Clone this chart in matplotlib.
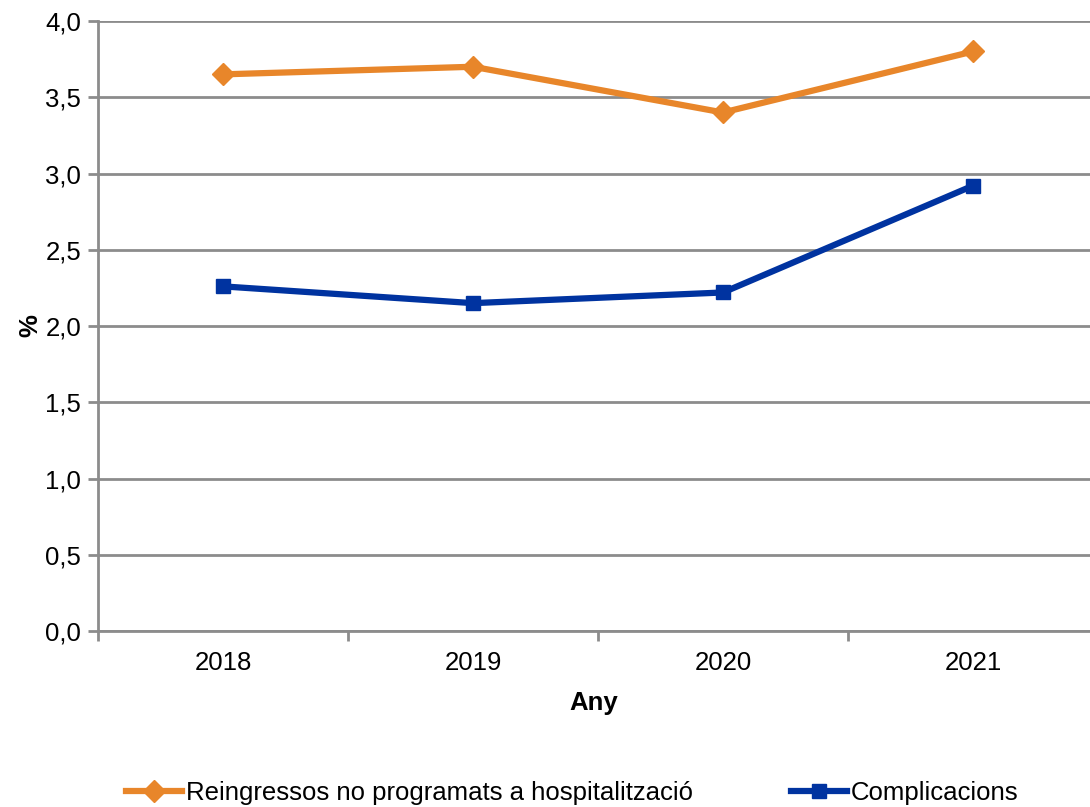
import matplotlib
matplotlib.use('Agg')
import matplotlib.pyplot as plt
from matplotlib.ticker import FixedLocator, FuncFormatter

years = ['2018', '2019', '2020', '2021']
reingressos = [3.65, 3.70, 3.40, 3.80]
complicacions = [2.26, 2.15, 2.22, 2.92]

plt.rcParams['font.family'] = ['Liberation Sans', 'DejaVu Sans']
FS = 18.5

fig = plt.figure(figsize=(10.9, 8.07), dpi=100)
ax = fig.add_axes([0.0899, 0.218, 0.9101, 0.756])

x = range(len(years))
ax.plot(x, reingressos, color='#E8862A', linewidth=4.5, marker='D', markersize=11,
        label='Reingressos no programats a hospitalització', zorder=3)
ax.plot(x, complicacions, color='#0033A0', linewidth=4.5, marker='s', markersize=10,
        label='Complicacions', zorder=3)

ax.set_ylim(0, 4.0)
ax.set_xlim(-0.5, 3.468)
ax.set_yticks([i * 0.5 for i in range(9)])
ax.yaxis.set_major_formatter(FuncFormatter(lambda v, p: f'{v:.1f}'.replace('.', ',')))
ax.set_xticks(list(x))
ax.set_xticklabels(years)
ax.xaxis.set_minor_locator(FixedLocator([-0.5, 0.5, 1.5, 2.5, 3.5]))
ax.tick_params(axis='x', which='major', length=0, pad=14, labelsize=FS)
ax.tick_params(axis='x', which='minor', length=7, width=2, color='#8c8c8c', direction='out')
ax.tick_params(axis='y', length=7, width=2, color='#8c8c8c', pad=5, labelsize=FS)

ax.grid(axis='y', color='#8c8c8c', linewidth=2)
ax.set_axisbelow(True)
for s in ['top', 'right']:
    ax.spines[s].set_visible(False)
for s in ['left', 'bottom']:
    ax.spines[s].set_color('#8c8c8c')
    ax.spines[s].set_linewidth(2)

ax.set_xlabel('Any', fontsize=FS, fontweight='bold', labelpad=12)
ax.set_ylabel('%', fontsize=FS, fontweight='bold', labelpad=2)

fig.legend(loc='lower center', bbox_to_anchor=(0.525, -0.026), ncol=2, frameon=False,
           fontsize=FS, handlelength=2.2, handletextpad=0.15, columnspacing=3.8)

fig.savefig('out.png', dpi=100)
